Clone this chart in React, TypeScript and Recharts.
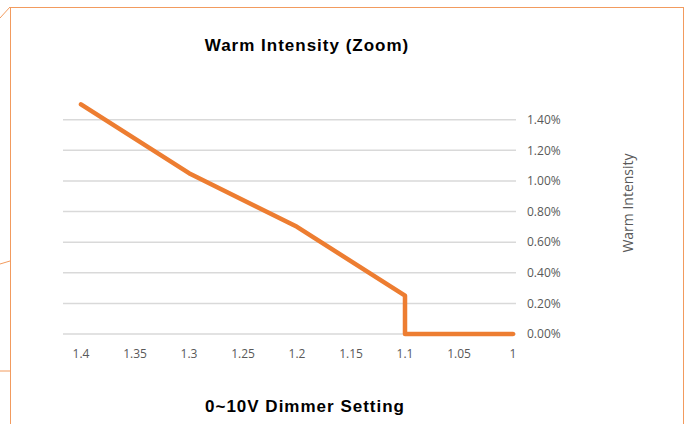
import { LineChart, Line, XAxis, YAxis, CartesianGrid } from 'recharts'

// dimmer setting (V) vs warm intensity (fraction)
const dimmer = [1.4, 1.3, 1.2, 1.1, 1.1, 1.0]
const intensity = [0.015, 0.0105, 0.007, 0.0025, 0, 0]
const xTicks = [1.4, 1.35, 1.3, 1.25, 1.2, 1.15, 1.1, 1.05, 1]
const yTicks = [0, 0.002, 0.004, 0.006, 0.008, 0.01, 0.012, 0.014]

const data = dimmer.map((x, i) => ({ x, y: intensity[i] }))

const tickStyle = { fill: '#595959', fontSize: 12, fontFamily: "'Open Sans', 'Noto Sans', sans-serif" }
const titleFont = "'Liberation Sans Narrow', 'Liberation Sans', Arial, sans-serif"

export default function App() {
  return (
    <div style={{ position: 'absolute', left: 0, top: 0, width: 691, height: 424, background: '#fff', overflow: 'hidden' }}>
      {/* chart frame */}
      <div style={{ position: 'absolute', left: 10, top: 7, width: 674, height: 430, border: '1.5px solid #F29B5E', boxSizing: 'border-box' }} />
      <svg width={691} height={424} style={{ position: 'absolute', left: 0, top: 0 }}>
        <line x1={0} y1={18} x2={10} y2={7} stroke="#F29B5E" strokeWidth={1} />
        <line x1={0} y1={264} x2={10} y2={261} stroke="#F29B5E" strokeWidth={1} />
        <line x1={0} y1={371} x2={10} y2={371} stroke="#F29B5E" strokeWidth={1} />
      </svg>
      <div style={{ position: 'absolute', left: 0, width: 614, top: 36, textAlign: 'center', fontFamily: titleFont, fontWeight: 700, fontSize: 17, letterSpacing: 1, color: '#000' }}>
        Warm Intensity (Zoom)
      </div>
      <div style={{ position: 'absolute', left: 0, width: 610, top: 397, textAlign: 'center', fontFamily: titleFont, fontWeight: 700, fontSize: 17, letterSpacing: 1, color: '#000' }}>
        0~10V Dimmer Setting
      </div>
      <div style={{ position: 'absolute', left: 627, top: 203, transform: 'translate(-50%, -50%) rotate(-90deg)', whiteSpace: 'nowrap', fontFamily: "'Open Sans', 'Noto Sans', sans-serif", fontSize: 14, color: '#595959' }}>
        Warm Intensity
      </div>
      <div style={{ position: 'absolute', left: 0, top: 0 }}>
        <LineChart width={691} height={424} data={data} margin={{ top: 89, left: 63, right: 115, bottom: 60 }}>
          <CartesianGrid vertical={false} stroke="#d9d9d9" strokeWidth={1.5} horizontalValues={yTicks} />
          <XAxis
            dataKey="x"
            type="number"
            domain={[1, 1.4]}
            reversed
            ticks={xTicks}
            tickFormatter={(v: number) => String(v)}
            padding={{ left: 18, right: 3 }}
            axisLine={false}
            tickLine={false}
            tickMargin={9}
            height={30}
            tick={tickStyle}
          />
          <YAxis
            orientation="right"
            type="number"
            domain={[0, 0.016]}
            ticks={yTicks}
            tickFormatter={(v: number) => (v * 100).toFixed(2) + '%'}
            axisLine={false}
            tickLine={false}
            tickMargin={5}
            width={60}
            tick={{ ...tickStyle, textAnchor: 'start' }}
          />
          <Line
            type="linear"
            dataKey="y"
            stroke="#ED7D31"
            strokeWidth={4.5}
            dot={false}
            strokeLinecap="round"
            strokeLinejoin="round"
            isAnimationActive={false}
          />
        </LineChart>
      </div>
    </div>
  )
}
